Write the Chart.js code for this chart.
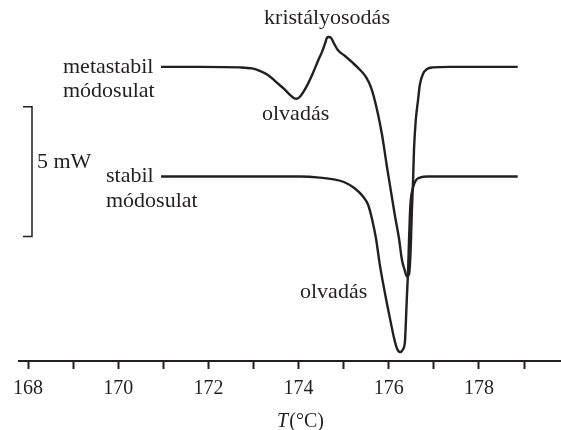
<!DOCTYPE html>
<html>
<head>
<meta charset="utf-8">
<script src="https://cdn.jsdelivr.net/npm/chart.js@4.4.1/dist/chart.umd.min.js"></script>
<style>
  html, body { margin: 0; padding: 0; background: #fff; }
  #wrap { width: 561px; height: 430px; }
</style>
</head>
<body>
<div id="wrap"><canvas id="dscChart" width="561" height="430"></canvas></div>
<script>
// DSC görbék: hőmérséklet (°C) és hőáram (mW, a stabil alapvonalhoz képest)
const metaT = [170.95, 171.81, 172.70, 172.97, 173.14, 173.32, 173.50, 173.68, 173.81, 173.90,
  173.96, 174.03, 174.16, 174.30, 174.43, 174.52, 174.59, 174.63, 174.67, 174.72,
  174.79, 174.87, 175.03, 175.18, 175.36, 175.49, 175.61, 175.74, 175.85, 175.96,
  176.05, 176.14, 176.23, 176.29, 176.36, 176.40, 176.45, 176.47, 176.49, 176.51,
  176.54, 176.56, 176.60, 176.65, 176.69, 176.76, 176.85, 176.98, 177.36, 178.86];
const metaMW = [4.23, 4.23, 4.21, 4.17, 4.08, 3.92, 3.65, 3.38, 3.15, 3.02,
  3.00, 3.08, 3.42, 3.92, 4.46, 4.81, 5.15, 5.35, 5.38, 5.35,
  5.12, 4.88, 4.65, 4.42, 4.12, 3.85, 3.42, 2.58, 1.62, 0.38,
  -0.58, -1.54, -2.42, -3.19, -3.65, -3.85, -3.77, -3.38, -2.62, -1.46,
  -0.12, 1.04, 2.19, 2.96, 3.54, 3.96, 4.15, 4.21, 4.23, 4.23];

const stabT = [170.95, 174.03, 174.47, 174.81, 175.03, 175.25, 175.43, 175.54, 175.63, 175.72,
  175.80, 175.92, 176.03, 176.12, 176.18, 176.25, 176.31, 176.36, 176.38, 176.40,
  176.43, 176.45, 176.47, 176.49, 176.54, 176.60, 176.69, 176.87, 178.86];
const stabMW = [0, 0, -0.04, -0.12, -0.23, -0.46, -0.77, -1.08, -1.65, -2.42,
  -3.38, -4.54, -5.50, -6.25, -6.62, -6.77, -6.68, -6.35, -5.60, -4.73,
  -3.58, -2.42, -1.46, -0.88, -0.42, -0.15, -0.04, 0, 0];

const xTicks = [168, 169, 170, 171, 172, 173, 174, 175, 176, 177, 178, 179];
const xTickLabels = [168, 170, 172, 174, 176, 178];

// skálajel: 5 mW
const scaleBarTop = 2.69;
const scaleBarSpan = 5;

const ink = '#231f20';
const serif = '"Liberation Serif", "Times New Roman", serif';

function toPoints(xs, ys) {
  return xs.map((x, i) => ({ x: x, y: ys[i] }));
}

const labelsPlugin = {
  id: 'dscLabels',
  afterDraw(chart) {
    const ctx = chart.ctx;
    const yScale = chart.scales.y;
    ctx.save();
    ctx.fillStyle = ink;
    ctx.strokeStyle = ink;
    ctx.textBaseline = 'alphabetic';
    ctx.textAlign = 'left';
    ctx.font = '22px ' + serif;

    ctx.fillText('metastabil', 63, 73);
    ctx.fillText('módosulat', 63, 97);
    ctx.fillText('stabil', 106, 182);
    ctx.fillText('módosulat', 106, 207);
    ctx.fillText('5 mW', 37, 168);
    ctx.fillText('olvadás', 262, 120);
    ctx.fillText('olvadás', 300, 298);
    ctx.textAlign = 'center';
    ctx.fillText('kristályosodás', 327, 24);

    // skálajel
    const top = yScale.getPixelForValue(scaleBarTop);
    const bottom = yScale.getPixelForValue(scaleBarTop - scaleBarSpan);
    ctx.lineWidth = 1.5;
    ctx.beginPath();
    ctx.moveTo(23, top);
    ctx.lineTo(32, top);
    ctx.lineTo(32, bottom);
    ctx.lineTo(23, bottom);
    ctx.stroke();

    // tengelycím: T(°C)
    ctx.textAlign = 'left';
    ctx.font = 'italic 20px ' + serif;
    const tW = ctx.measureText('T').width;
    ctx.font = '20px ' + serif;
    const rW = ctx.measureText('(°C)').width;
    const startX = 300 - (tW + rW) / 2;
    ctx.font = 'italic 20px ' + serif;
    ctx.fillText('T', startX, 427);
    ctx.font = '20px ' + serif;
    ctx.fillText('(°C)', startX + tW + 1, 427);
    ctx.restore();
  }
};

new Chart(document.getElementById('dscChart').getContext('2d'), {
  type: 'line',
  data: {
    datasets: [
      {
        label: 'metastabil módosulat',
        data: toPoints(metaT, metaMW),
        borderColor: ink,
        borderWidth: 2.4,
        pointRadius: 0,
        cubicInterpolationMode: 'monotone',
        fill: false
      },
      {
        label: 'stabil módosulat',
        data: toPoints(stabT, stabMW),
        borderColor: ink,
        borderWidth: 2.4,
        pointRadius: 0,
        cubicInterpolationMode: 'monotone',
        fill: false
      }
    ]
  },
  options: {
    responsive: false,
    animation: false,
    layout: { padding: { left: 19, right: 0, top: 0, bottom: 21 } },
    plugins: {
      legend: { display: false },
      tooltip: { enabled: false }
    },
    scales: {
      x: {
        type: 'linear',
        min: 167.8,
        max: 179.82,
        afterBuildTicks: (axis) => {
          axis.ticks = xTicks.map((v) => ({ value: v }));
        },
        ticks: {
          autoSkip: false,
          maxRotation: 0,
          padding: 8,
          color: ink,
          font: { family: serif, size: 20 },
          callback: (value) => (xTickLabels.includes(value) ? String(value) : '')
        },
        grid: {
          drawOnChartArea: false,
          drawTicks: true,
          tickLength: 8,
          tickWidth: 2,
          tickColor: ink
        },
        border: { display: true, color: ink, width: 2 }
      },
      y: {
        type: 'linear',
        display: false,
        min: -7.115,
        max: 6.81
      }
    }
  },
  plugins: [labelsPlugin]
});
</script>
</body>
</html>
